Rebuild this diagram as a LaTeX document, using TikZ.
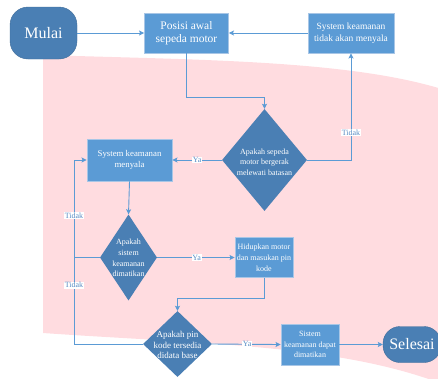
\documentclass[tikz,border=0pt]{standalone}
\usepackage{fontspec}
\setmainfont{Liberation Serif}
\usetikzlibrary{arrows.meta,shapes.geometric}
\definecolor{boxblue}{HTML}{5B9BD5}
\definecolor{darkblue}{HTML}{4A7FB4}
\definecolor{edgeblue}{HTML}{A8C6E6}
\definecolor{linkblue}{HTML}{5B9BD5}
\definecolor{lblblue}{HTML}{5A8DC4}
\definecolor{bandpink}{HTML}{FFDCE0}
\newcommand{\fs}[2]{\fontsize{#1}{#2}\selectfont}
\begin{document}
\begin{tikzpicture}[x=1pt,y=-1pt,
  stepbox/.style={rectangle,fill=boxblue,draw=edgeblue,line width=0.9pt,
    text=white,align=center,inner sep=1pt},
  terminal/.style={rectangle,rounded corners=18pt,fill=darkblue,draw=darkblue!85!black,
    line width=0.4pt,text=white,font=\fs{16}{18}},
  decision/.style={diamond,fill=darkblue,inner sep=0pt},
  dtext/.style={text=white,align=center,inner sep=0pt},
  link/.style={draw=linkblue,line width=0.9pt,-{Stealth[length=5pt,width=5pt,inset=1pt]}},
  plain/.style={draw=linkblue,line width=0.9pt},
  lbl/.style={fill=white,text=lblblue,font=\fs{8}{9},inner sep=0.6pt}]
\useasboundingbox (0,0) rectangle (438,378);
% pink band behind the chart
\fill[bandpink] (43,55) .. controls (200,60) and (350,60) .. (445,90)
  -- (445,385) .. controls (340,344) and (200,344) .. (43,333) -- cycle;

% nodes
\node[terminal,minimum width=67pt,minimum height=52pt] (mulai) at (43.5,33) {Mulai};
\node[stepbox,minimum width=84pt,minimum height=40pt,font=\fs{11.5}{13.5}] (posisi) at (186.5,33) {Posisi awal\\sepeda motor};
\node[stepbox,minimum width=86pt,minimum height=40pt,font=\fs{9.5}{12}] (sysoff) at (351,33) {System keamanan\\tidak akan menyala};
\node[decision,minimum width=85pt,minimum height=102pt] (d1) at (264.5,160) {};
\node[dtext,font=\fs{8}{10.5}] (d1t) at (264.5,162) {Apakah sepeda\\motor bergerak\\melewati batasan};
\node[stepbox,minimum width=85pt,minimum height=42pt,font=\fs{8.8}{10.5}] (menyala) at (129.5,160) {System keamanan\\menyala};
\node[decision,minimum width=57pt,minimum height=86pt] (d2) at (128.5,257.5) {};
\node[dtext,font=\fs{8}{10.6}] (d2t) at (128.5,258) {Apakah\\sistem\\keamanan\\dimatikan};
\node[stepbox,minimum width=58pt,minimum height=40pt,font=\fs{8}{11}] (hidup) at (264,257.5) {Hidupkan motor\\dan masukan pin\\kode};
\node[decision,minimum width=69pt,minimum height=66pt] (d3) at (177.5,344) {};
\node[dtext,font=\fs{9}{10.5}] (d3t) at (177.5,345) {Apakah pin\\kode tersedia\\didata base};
\node[stepbox,minimum width=58pt,minimum height=41pt,font=\fs{8}{10.5}] (sistem) at (310,344.5) {Sistem\\keamanan dapat\\dimatikan};
\node[terminal,minimum width=58pt,minimum height=36pt,rounded corners=17pt] (selesai) at (412,344.5) {Selesai};

% connectors
\coordinate (lft) at (74,160);
\draw[link] (mulai.east) -- (posisi.west);
\draw[link] (sysoff.west) -- (posisi.east);
\draw[link] (posisi.south) |- (d1.north |- 0,97) -- (d1.north);
\draw[link] (d1.east) -| (sysoff.south) node[lbl,pos=0.63] {Tidak};
\draw[link] (d1.west) -- (menyala.east) node[lbl,pos=0.5] {Ya};
\draw[link] (menyala.south) -- (d2.north);
\draw[link] (d2.west) -- (d2.west -| lft) -- (lft) node[lbl,pos=0.43] {Tidak} -- (menyala.west);
\draw[link] (d2.east) -- (hidup.west) node[lbl,pos=0.51] {Ya};
\draw[link] (hidup.south) |- (d3.north |- 0,298) -- (d3.north);
\draw[plain] (d3.west) -- (d3.west -| lft) -- (lft |- d2.west) node[lbl,pos=0.68] {Tidak};
\draw[link] (d3.east) -- (sistem.west) node[lbl,pos=0.51] {Ya};
\draw[link] (sistem.east) -- (selesai.west);
\end{tikzpicture}
\end{document}
